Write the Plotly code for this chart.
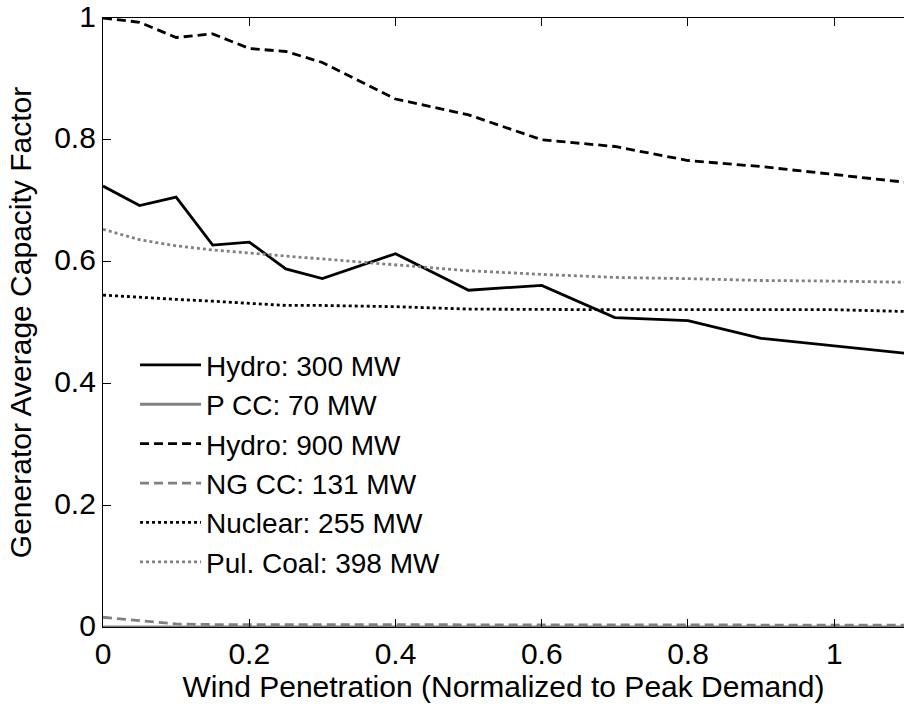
import plotly.graph_objects as go

wind = [0, 0.05, 0.1, 0.15, 0.2, 0.25, 0.3, 0.4, 0.5, 0.6, 0.7, 0.8, 0.9, 1.0, 1.1]

hydro_300 = [0.724, 0.692, 0.706, 0.627, 0.632, 0.588, 0.572, 0.613, 0.553, 0.561, 0.508, 0.503, 0.474, 0.461, 0.449]
p_cc_70 = [0.0] * 15
hydro_900 = [1.0, 0.993, 0.968, 0.974, 0.950, 0.945, 0.927, 0.867, 0.841, 0.800, 0.789, 0.766, 0.756, 0.743, 0.730]
ng_cc_131 = [0.016, 0.010, 0.005, 0.004, 0.004, 0.003, 0.003, 0.003, 0.003, 0.003, 0.003, 0.003, 0.003, 0.003, 0.003]
nuclear_255 = [0.545, 0.541, 0.538, 0.535, 0.532, 0.528, 0.528, 0.526, 0.522, 0.521, 0.521, 0.521, 0.521, 0.521, 0.518]
pul_coal_398 = [0.653, 0.636, 0.626, 0.619, 0.614, 0.609, 0.604, 0.594, 0.585, 0.579, 0.574, 0.572, 0.569, 0.568, 0.566]

names = ["Hydro: 300 MW", "P CC: 70 MW", "Hydro: 900 MW", "NG CC: 131 MW", "Nuclear: 255 MW", "Pul. Coal: 398 MW"]
series = [hydro_300, p_cc_70, hydro_900, ng_cc_131, nuclear_255, pul_coal_398]
colors = ["black", "#808080", "black", "#808080", "black", "#808080"]
dashes = ["solid", "solid", "9px,5px", "9px,5px", "3px,3px", "3px,3px"]

x_ticks = [0, 0.2, 0.4, 0.6, 0.8, 1.0]
x_labels = ["0", "0.2", "0.4", "0.6", "0.8", "1"]
y_ticks = [0, 0.2, 0.4, 0.6, 0.8, 1.0]
y_labels = ["0", "0.2", "0.4", "0.6", "0.8", "1"]

fig = go.Figure()
for n, s, c, d in zip(names, series, colors, dashes):
    fig.add_trace(go.Scatter(x=wind, y=s, mode="lines", name=n,
                             line=dict(color=c, width=2.8, dash=d)))

fam = "Liberation Sans, Arial, sans-serif"
font = dict(family=fam, size=30, color="black")
tick_style = dict(ticks="inside", ticklen=8, tickcolor="black", tickwidth=1,
                  showgrid=False, zeroline=False, tickfont=font,
                  ticklabeloverflow="allow", automargin=False)

fig.update_layout(
    width=904, height=707,
    margin=dict(l=103, r=0, t=18, b=80),
    paper_bgcolor="white", plot_bgcolor="white",
    font=font,
    showlegend=True,
    legend=dict(x=0.04, y=0.471, xanchor="left", yanchor="top", bgcolor="rgba(0,0,0,0)",
                font=dict(family=fam, size=28, color="black"), itemwidth=61),
    xaxis=dict(range=[0, 1.0954], tickvals=x_ticks, ticktext=x_labels,
               showline=True, linecolor="black", linewidth=1.2, mirror="ticks",
               title=dict(text="Wind Penetration (Normalized to Peak Demand)", font=font, standoff=0),
               **tick_style),
    yaxis=dict(range=[0, 1], tickvals=y_ticks, ticktext=y_labels,
               showline=True, linecolor="black", linewidth=1.2, mirror=False,
               title=dict(text="Generator Average Capacity Factor", font=font, standoff=13),
               ticklabelshift=-2,
               **tick_style),
    yaxis2=dict(range=[0, 1], tickvals=y_ticks, showticklabels=False, overlaying="y",
                side="right", anchor="x", showline=False, automargin=False,
                ticks="inside", ticklen=8, tickcolor="black", tickwidth=1,
                showgrid=False, zeroline=False),
)

fig.write_html("out.html",
               config={"displayModeBar": False},
               post_script="document.body.style.margin='0';document.body.style.overflow='hidden';")
